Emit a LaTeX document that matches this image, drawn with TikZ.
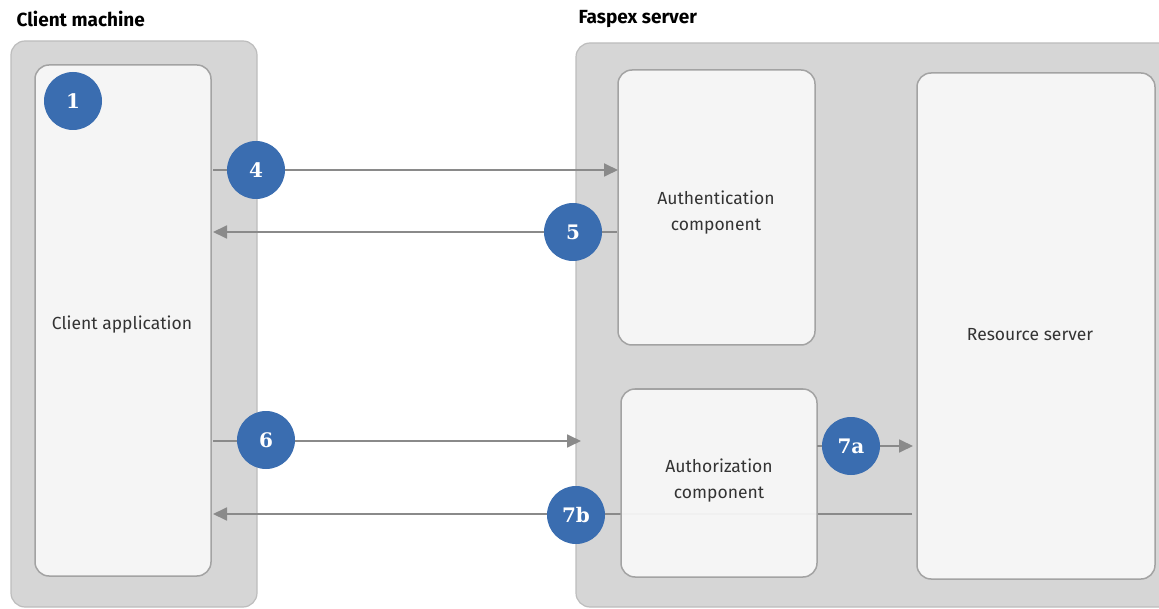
\documentclass[tikz,border=0pt]{standalone}
\usepackage{fontspec}
\setmainfont{Fira Sans}
\newfontfamily\numfont{DejaVu Serif}
\usetikzlibrary{arrows.meta}
\definecolor{outerfill}{HTML}{D6D6D6}
\definecolor{outerdraw}{HTML}{BDBDBD}
\definecolor{innerfill}{HTML}{F7F7F7}
\definecolor{innerdraw}{HTML}{A3A3A3}
\definecolor{badge}{HTML}{3A6DB0}
\definecolor{arrowc}{HTML}{8A8A8A}
\definecolor{txt}{HTML}{333333}
\tikzset{
  outerbox/.style={draw=outerdraw, fill=outerfill, line width=1.2pt, rounded corners=14pt},
  innerbox/.style={draw=innerdraw, fill=innerfill, fill opacity=0.94, line width=1.5pt, rounded corners=14pt},
  badgecirc/.style={circle, fill=badge, text=white, minimum size=58pt, inner sep=0pt, font=\numfont\bfseries\fontsize{20}{24}\selectfont},
  flow/.style={draw=arrowc, line width=1.8pt, -{Triangle[length=14pt,width=13pt]}},
  title/.style={anchor=west, font=\bfseries\fontsize{19}{22}\selectfont, text=black},
  label/.style={align=center, text=txt, font=\fontsize{17.5}{26}\selectfont},
}
\begin{document}
\begin{tikzpicture}[x=1pt,y=-1pt]
\useasboundingbox (0,0) rectangle (1159,609);
% titles
\node[title] (tclient) at (13,19) {Client machine};
\node[title] (tserver) at (575,19) {Faspex server};
% outer boxes
\draw[outerbox] (11,41) rectangle (257,607);
\draw[outerbox] (576,43) rectangle (1175,607);
% connector end points
\coordinate (c4s) at (213,170);
\coordinate (c4e) at (618,170);
\coordinate (c5s) at (617,232);
\coordinate (c5e) at (213,232);
\coordinate (c6s) at (213,441);
\coordinate (c6e) at (581,441);
\coordinate (c7as) at (817,446);
\coordinate (c7ae) at (913,446);
\coordinate (c7bs) at (912,514);
\coordinate (c7be) at (213,514);
% 7b line behind authorization component
\draw[flow] (c7bs) -- (c7be);
% inner boxes
\draw[innerbox] (35,65) rectangle (211,576);
\draw[innerbox] (618,70) rectangle (815,345);
\draw[innerbox] (917,73) rectangle (1155,579);
\draw[innerbox] (621,389) rectangle (817,577);
\node[label] (capp) at (122,325) {Client application};
\node[label] (auth) at (716,213) {Authentication\\component};
\node[label] (res) at (1030,335) {Resource server};
\node[label] (authz) at (719,481) {Authorization\\component};
% arrows
\draw[flow] (c4s) -- (c4e);
\draw[flow] (c5s) -- (c5e);
\draw[flow] (c6s) -- (c6e);
\draw[flow] (c7as) -- (c7ae);
% badges
\node[badgecirc] (b1) at (73,101) {1};
\node[badgecirc] (b4) at (256,170) {4};
\node[badgecirc] (b5) at (573,232) {5};
\node[badgecirc] (b6) at (266,440) {6};
\node[badgecirc] (b7a) at (851,446) {7a};
\node[badgecirc] (b7b) at (576,515) {7b};
\end{tikzpicture}
\end{document}
